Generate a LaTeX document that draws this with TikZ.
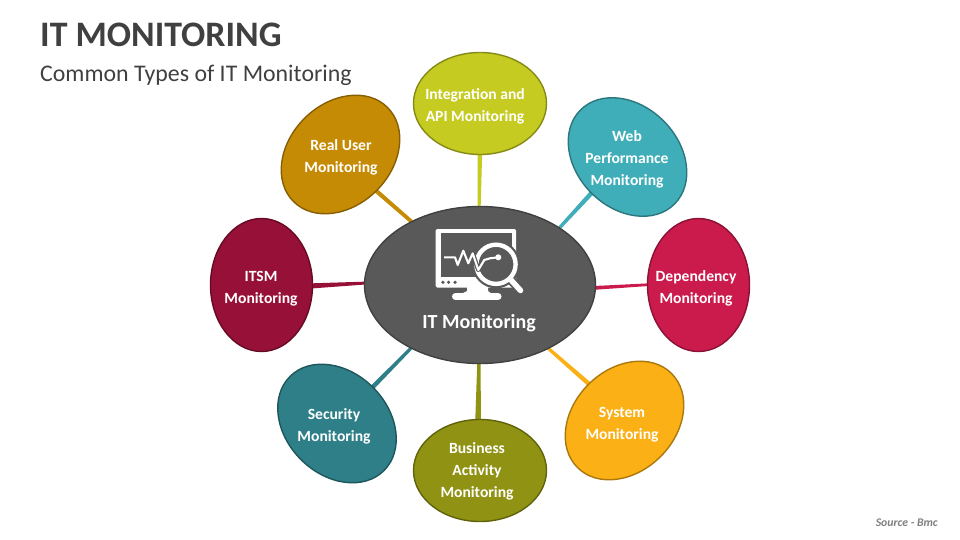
\documentclass[tikz,border=0pt]{standalone}
\usepackage{fontspec}
\setmainfont{Carlito}
\usetikzlibrary{shapes.geometric,calc}
\definecolor{cRU}{HTML}{C68B05}
\definecolor{cIN}{HTML}{C5CB20}
\definecolor{cWB}{HTML}{40AEB9}
\definecolor{cDP}{HTML}{CB1A4C}
\definecolor{cSY}{HTML}{FBB015}
\definecolor{cBA}{HTML}{8F9212}
\definecolor{cSC}{HTML}{2E7F88}
\definecolor{cIT}{HTML}{971037}
\definecolor{cCT}{HTML}{595959}
\definecolor{cTX}{HTML}{404040}
\tikzset{
  bubble/.style={ellipse,draw=#1!68!black,fill=#1,line width=1.4pt,inner sep=0pt,
    minimum width=133pt,minimum height=102pt},
  hub/.style={ellipse,draw=cCT!72!black,fill=cCT,line width=1.4pt,inner sep=0pt,
    minimum width=231pt,minimum height=157pt},
  lbl/.style={text=white,align=center,inner sep=0pt,font=\fontsize{15.6}{22}\selectfont\bfseries},
  icw/.style={fill=white,draw=none},
  ick/.style={fill=cCT,draw=none},
}
% tapered connector: from, to, half width at from, half width at to, colour
\newcommand\taper[5]{\fill[#5]
  ($(#1)!#3!90:(#2)$) -- ($(#1)!#3!-90:(#2)$) -- ($(#2)!#4!90:(#1)$) -- ($(#2)!#4!-90:(#1)$) -- cycle;}
\begin{document}
\begin{tikzpicture}[x=1pt,y=-1pt]
\useasboundingbox (0,0) rectangle (960,540);
\fill[white] (0,0) rectangle (960,540);
% connector end points
\coordinate (e1a) at (366,182); \coordinate (e1b) at (420,229);
\coordinate (e2a) at (480,145); \coordinate (e2b) at (479,216);
\coordinate (e3a) at (598,186); \coordinate (e3b) at (552,236);
\coordinate (e4a) at (660,284); \coordinate (e4b) at (584,288.5);
\coordinate (e5a) at (597,391); \coordinate (e5b) at (541,342);
\coordinate (e6a) at (478,428); \coordinate (e6b) at (479,356);
\coordinate (e7a) at (363,397); \coordinate (e7b) at (418,341);
\coordinate (e8a) at (300,286.5); \coordinate (e8b) at (376,282.5);
\taper{e1a}{e1b}{2.2pt}{1.8pt}{cRU}
\taper{e2a}{e2b}{2.4pt}{1.4pt}{cIN}
\taper{e3a}{e3b}{2.4pt}{1.5pt}{cWB}
\taper{e4a}{e4b}{1.2pt}{2pt}{cDP}
\taper{e5a}{e5b}{2.4pt}{1.5pt}{cSY}
\taper{e6a}{e6b}{3pt}{1.5pt}{cBA}
\taper{e7a}{e7b}{2.4pt}{1.5pt}{cSC}
\taper{e8a}{e8b}{2.8pt}{1.2pt}{cIT}
% bubbles
\node[bubble=cRU,rotate=45] (ru) at (340.5,154.5) {};
\node[bubble=cIN] (in) at (480,103.5) {};
\node[bubble=cWB,rotate=-45] (wb) at (627.5,157) {};
\node[bubble=cDP,rotate=90] (dp) at (698.5,285) {};
\node[bubble=cSY,rotate=45] (sy) at (624.5,420.5) {};
\node[bubble=cBA] (ba) at (480,470.5) {};
\node[bubble=cSC,rotate=-45] (sc) at (337,423.5) {};
\node[bubble=cIT,rotate=90] (it) at (261.5,285) {};
\node[hub] (ct) at (480,285) {};
% labels
\node[lbl] (tru) at (341,157) {Real User\\Monitoring};
\node[lbl] (tin) at (475,106) {Integration and\\API Monitoring};
\node[lbl] (twb) at (627,159.5) {Web\\Performance\\Monitoring};
\node[lbl] (tdp) at (696,288) {Dependency\\Monitoring};
\node[lbl] (tsy) at (622,424.5) {System\\Monitoring};
\node[lbl] (tba) at (477,471.5) {Business\\Activity\\Monitoring};
\node[lbl] (tsc) at (334,426.5) {Security\\Monitoring};
\node[lbl] (tit) at (261,288.5) {ITSM\\Monitoring};
\node[lbl,font=\fontsize{20}{22}\selectfont\bfseries] (tct) at (479,323) {IT Monitoring};
% icon
\fill[icw,rounded corners=1.5pt] (435.7,229) rectangle (516,287.5);
\fill[ick] (440.7,233.3) rectangle (511.7,276.7);
\fill[ick] (442.9,282.3) circle (1.8) (448.6,282.3) circle (1.8) (455,282.3) circle (1.8);
\fill[icw] (467,287) -- (488,287) -- (488,291) -- (492,294) -- (461,294) -- (467,291) -- cycle;
\draw[draw=white,line width=7pt,line cap=round] (455.5,296.5) -- (498,296.5);
\fill[ick] (496,264.3) circle (24);
\draw[draw=cCT,line width=9pt,line cap=round] (511,280) -- (521,291);
\draw[draw=white,line width=4.4pt] (496,264.3) circle (19.6);
\draw[draw=white,line width=5.5pt,line cap=round] (511,280) -- (520.5,290.5);
\draw[draw=cCT,line width=4.4pt,line join=round] (468.3,263.3) -- (472.7,253.3) -- (478.3,270) -- (484.3,260);
\draw[draw=white,line width=2.1pt,line join=round] (444,257.3) -- (455,257.3) -- (457.7,265) -- (463.3,250.7) -- (468.3,263.3) -- (472.7,253.3) -- (478.3,270) -- (484.3,260) -- (490,258.3) -- (498.3,257.3);
\fill[icw] (498.3,257.3) circle (3);
% titles
\node[anchor=base west,inner sep=0pt,text=cTX,font=\fontsize{35.85}{40}\selectfont\bfseries] (ttl) at (40,47) {IT MONITORING};
\node[anchor=base west,inner sep=0pt,text=cTX,font=\fontsize{23.85}{28}\selectfont] (sub) at (40,82) {Common Types of IT Monitoring};
\node[anchor=base east,inner sep=0pt,text=gray,font=\fontsize{11.7}{13}\selectfont\bfseries\itshape] (src) at (938,526) {Source - Bmc};
\end{tikzpicture}
\end{document}
